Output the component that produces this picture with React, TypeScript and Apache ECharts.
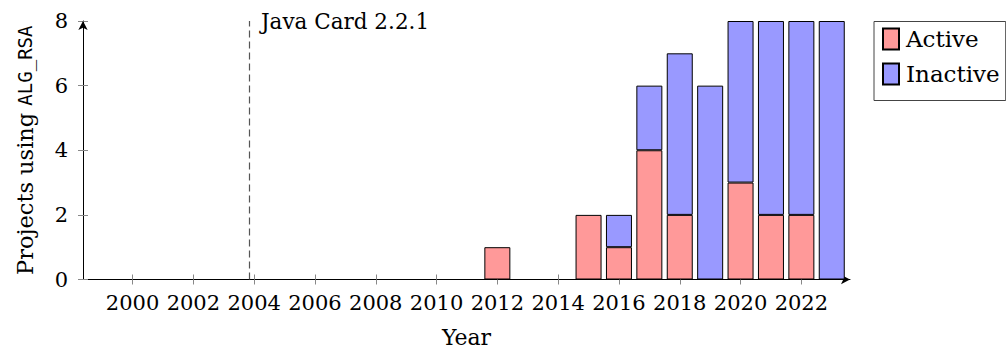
import React, { useEffect, useRef } from "react";
import * as echarts from "echarts";

const years = [2012, 2015, 2016, 2017, 2018, 2019, 2020, 2021, 2022, 2023];
const active = [1, 2, 1, 4, 2, 0, 3, 2, 2, 0];
const inactive = [0, 0, 1, 2, 5, 6, 5, 6, 6, 8];
const xTicks = [2000, 2002, 2004, 2006, 2008, 2010, 2012, 2014, 2016, 2018, 2020, 2022];
const yTicks = [0, 2, 4, 6, 8];
const javaCardYear = 2003.83;
const javaCardLabel = "Java Card 2.2.1";

const SERIF = "DejaVu Serif";
const MONO = "DejaVu Sans Mono";

export default function App() {
  const ref = useRef<HTMLDivElement>(null);
  useEffect(() => {
    if (!ref.current) return;
    const chart = echarts.init(ref.current, null, { renderer: "svg" });
    const xMin = 1998.37;
    const xMax = 2023.6;
    const tickColor = "#888";
    const xAxisBase = {
      type: "value" as const,
      min: xMin,
      max: xMax,
      position: "bottom" as const,
      splitLine: { show: false },
    };
    const yAxisBase = {
      type: "value" as const,
      min: 0,
      max: 8,
      interval: 2,
      position: "left" as const,
      splitLine: { show: false },
    };
    const toData = (vals: number[]) => years.map((y, i) => [vals[i] === 0 ? null : vals[i], y]);
    chart.setOption({
      animation: false,
      textStyle: { fontFamily: SERIF },
      grid: { left: 83, top: 21, width: 767, height: 258.5, containLabel: false },
      legend: {
        data: ["Active", "Inactive"],
        orient: "vertical",
        left: 874,
        top: 21.5,
        itemWidth: 16,
        itemHeight: 21,
        itemGap: 12,
        padding: [6, 6, 15, 8],
        borderColor: "#444",
        borderWidth: 1,
        icon: "rect",
        textStyle: { fontFamily: SERIF, fontSize: 23, color: "#000", lineHeight: 21, padding: [2, 0, 0, 2] },
      },
      xAxis: [
        {
          ...xAxisBase,
          name: "Year",
          nameLocation: "middle",
          nameGap: 47,
          nameTextStyle: { fontFamily: SERIF, fontSize: 22, color: "#000" },
          axisLine: { show: true, lineStyle: { color: "#000", width: 1 }, symbol: ["none", "arrow"], symbolSize: [7, 9] },
          axisTick: { show: true, inside: false, length: 5, customValues: xTicks, lineStyle: { color: tickColor } },
          axisLabel: {
            show: true,
            customValues: xTicks,
            margin: 13,
            fontFamily: SERIF,
            fontSize: 21,
            color: "#000",
            formatter: (v: number) => String(v),
          },
        },
        {
          ...xAxisBase,
          axisLine: { show: false },
          axisTick: { show: true, inside: true, length: 5, customValues: xTicks, lineStyle: { color: tickColor } },
          axisLabel: { show: false },
        },
      ],
      yAxis: [
        {
          ...yAxisBase,
          name: "Projects using {tt|ALG_RSA}",
          nameLocation: "middle",
          nameGap: 47,
          nameRotate: 90,
          nameTextStyle: {
            fontFamily: SERIF,
            fontSize: 22.5,
            color: "#000",
            rich: { tt: { fontFamily: MONO, fontSize: 19, color: "#000" } },
          },
          axisLine: { show: true, lineStyle: { color: "#000", width: 1 }, symbol: ["none", "arrow"], symbolSize: [7, 9] },
          axisTick: { show: true, inside: false, length: 5, lineStyle: { color: tickColor } },
          axisLabel: {
            show: true,
            margin: 15,
            fontFamily: SERIF,
            fontSize: 21,
            color: "#000",
            customValues: yTicks,
            formatter: (v: number) => String(v),
          },
        },
        {
          ...yAxisBase,
          axisLine: { show: false },
          axisTick: { show: true, inside: true, length: 5, lineStyle: { color: tickColor } },
          axisLabel: { show: false },
        },
      ],
      series: [
        {
          name: "Active",
          type: "bar",
          stack: "total",
          xAxisIndex: 0,
          yAxisIndex: 0,
          barWidth: 26,
          encode: { x: 1, y: 0 },
          data: toData(active),
          itemStyle: { color: "#ff9999", borderColor: "#000", borderWidth: 1 },
          markLine: {
            silent: true,
            symbol: ["none", "none"],
            label: { show: false },
            lineStyle: { color: "#555", width: 1.2, type: [7, 4] },
            data: [{ xAxis: javaCardYear }],
          },
          markPoint: {
            silent: true,
            symbol: "circle",
            symbolSize: 0,
            itemStyle: { color: "rgba(0,0,0,0)" },
            label: {
              show: true,
              position: "right",
              distance: 12,
              formatter: javaCardLabel,
              fontFamily: SERIF,
              fontSize: 21.5,
              color: "#000",
            },
            data: [{ coord: [javaCardYear, 8] }],
          },
        },
        {
          name: "Inactive",
          type: "bar",
          stack: "total",
          xAxisIndex: 0,
          yAxisIndex: 0,
          barWidth: 26,
          encode: { x: 1, y: 0 },
          data: toData(inactive),
          itemStyle: { color: "#9999ff", borderColor: "#000", borderWidth: 1 },
        },
      ],
    });
    return () => chart.dispose();
  }, []);
  return (
    <div
      ref={ref}
      style={{ position: "fixed", left: 0, top: 0, width: 1006, height: 354, background: "#fff" }}
    />
  );
}
